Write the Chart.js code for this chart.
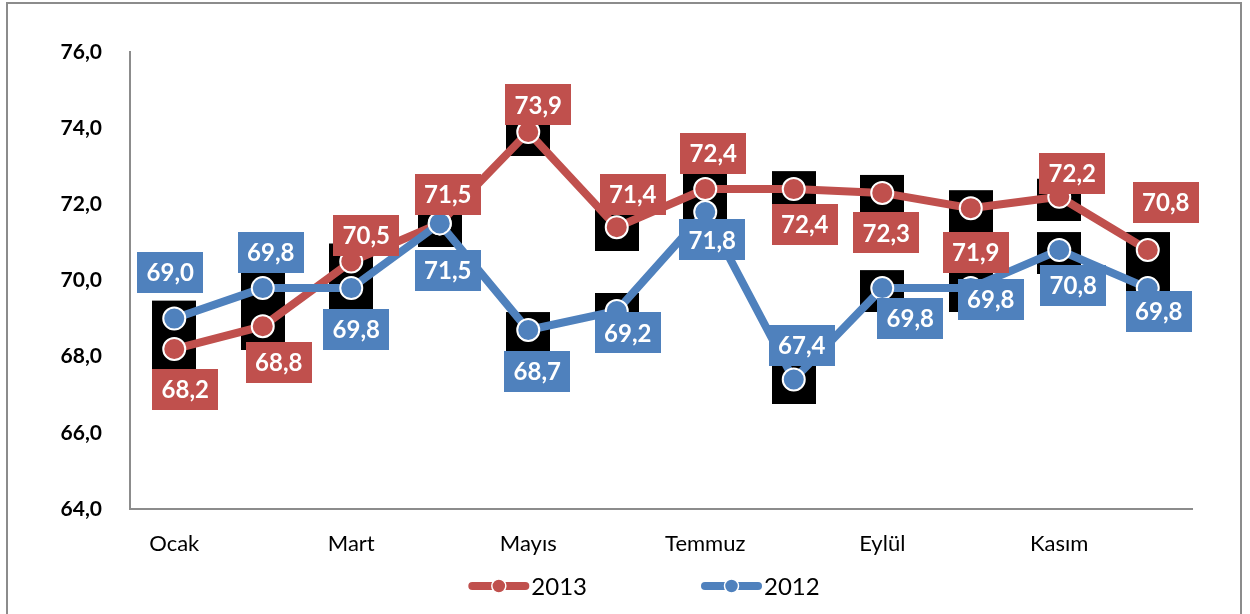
<!DOCTYPE html>
<html><head><meta charset="utf-8">
<script src="https://cdn.jsdelivr.net/npm/chart.js@4/dist/chart.umd.min.js"></script>
<style>html,body{margin:0;padding:0;background:#fff}#wrap{width:1250px;height:614px;position:relative}</style>
</head><body><div id="wrap"><canvas id="c" width="1250" height="614"></canvas></div>
<script>
const months = ['Ocak','Şubat','Mart','Nisan','Mayıs','Haziran','Temmuz','Ağustos','Eylül','Ekim','Kasım','Aralık'];
const values2013 = [68.2,68.8,70.5,71.5,73.9,71.4,72.4,72.4,72.3,71.9,72.2,70.8];
const values2012 = [69.0,69.8,69.8,71.5,68.7,69.2,71.8,67.4,69.8,69.8,70.8,69.8];
const yMin = 64, yMax = 76, yStep = 2;
const seriesNames = ['2013','2012'];

// label offsets relative to each point (style only)
const labelOffsets2013 = [[11,40],[16,36],[15,-26],[8,-29],[10,-27],[16,-33],[8,-36],[11,35],[4,40],[5,44],[13,-23],[18,-48]];
const labelOffsets2012 = [[-4,-46],[8,-36],[5,41],[8,47],[9,41],[11,22],[7,28],[8,-34],[28,30],[20,11],[14,35],[11,23]];

const RED = '#C0504D', BLUE = '#4F81BD';
const FONT = 'Lato, "Open Sans", sans-serif';
const fmt = v => v.toFixed(1).replace('.', ',');

function makeBlock(){
  const c = document.createElement('canvas');
  c.width = 44; c.height = 48;
  const g = c.getContext('2d');
  g.fillStyle = '#000';
  g.fillRect(0, 6, 44, 42);
  return c;
}
const block = makeBlock();

const frame = {
  id: 'frame',
  beforeDraw(chart){
    const ctx = chart.ctx;
    ctx.save();
    ctx.fillStyle = '#fff';
    ctx.fillRect(0,0,chart.width,chart.height);
    ctx.strokeStyle = '#8c8c8c';
    ctx.lineWidth = 2;
    ctx.strokeRect(7, 3, 1234, 630);
    ctx.restore();
  }
};

const labels = {
  id: 'valueLabels',
  afterDatasetsDraw(chart){
    const ctx = chart.ctx;
    ctx.save();
    ctx.font = 'bold 24px ' + FONT;
    ctx.textAlign = 'center';
    ctx.textBaseline = 'middle';
    chart.data.datasets.forEach((ds, di) => {
      if (!ds.valueLabelOffsets) return;
      const meta = chart.getDatasetMeta(di);
      meta.data.forEach((pt, i) => {
        const [dx, dy] = ds.valueLabelOffsets[i];
        const txt = fmt(ds.data[i]);
        const w = ctx.measureText(txt).width + 19;
        const h = 41;
        const cx = pt.x + dx, cy = pt.y + dy;
        ctx.fillStyle = ds.borderColor;
        ctx.fillRect(Math.round(cx - w/2), Math.round(cy - h/2), Math.round(w), h);
        ctx.fillStyle = '#fff';
        ctx.fillText(txt, cx, cy + 1);
      });
    });
    ctx.restore();
  }
};

const legend = {
  id: 'customLegend',
  afterDraw(chart){
    const ctx = chart.ctx;
    ctx.save();
    ctx.font = '24px ' + FONT;
    ctx.textBaseline = 'middle';
    ctx.textAlign = 'left';
    const items = chart.data.datasets.filter(d => d.inLegend);
    const symW = 61, gapT = 2, gapItems = 114, cy = 586;
    const widths = items.map(d => symW + gapT + ctx.measureText(d.label).width);
    const total = widths.reduce((a,b)=>a+b,0) + gapItems*(items.length-1);
    let x = 644 - total/2;
    items.forEach((d, k) => {
      ctx.strokeStyle = d.borderColor;
      ctx.lineWidth = 8;
      ctx.lineCap = 'round';
      ctx.beginPath();
      ctx.moveTo(x + 4, cy); ctx.lineTo(x + symW - 4, cy);
      ctx.stroke();
      ctx.beginPath();
      ctx.arc(x + symW/2, cy, 7, 0, Math.PI*2);
      ctx.fillStyle = d.borderColor;
      ctx.fill();
      ctx.lineWidth = 1.5;
      ctx.strokeStyle = '#fff';
      ctx.stroke();
      ctx.fillStyle = '#000';
      ctx.fillText(d.label, x + symW + gapT, cy + 1);
      x += widths[k] + gapItems;
    });
    ctx.restore();
  }
};

new Chart(document.getElementById('c'), {
  type: 'line',
  data: {
    labels: months,
    datasets: [
      { label: 'b2013', data: values2013, showLine: false, pointStyle: block, pointRadius: 22, order: 10 },
      { label: 'b2012', data: values2012, showLine: false, pointStyle: block, pointRadius: 22, order: 11 },
      { label: seriesNames[0], data: values2013, borderColor: RED, backgroundColor: RED, borderWidth: 8,
        pointRadius: 11, pointBorderColor: '#fff', pointBackgroundColor: RED, pointBorderWidth: 2,
        tension: 0, order: 2, inLegend: true, valueLabelOffsets: labelOffsets2013 },
      { label: seriesNames[1], data: values2012, borderColor: BLUE, backgroundColor: BLUE, borderWidth: 8,
        pointRadius: 11, pointBorderColor: '#fff', pointBackgroundColor: BLUE, pointBorderWidth: 2,
        tension: 0, order: 1, inLegend: true, valueLabelOffsets: labelOffsets2012 }
    ]
  },
  options: {
    responsive: false,
    animation: false,
    devicePixelRatio: 1,
    layout: { padding: { top: 52, right: 58, left: 0, bottom: 0 } },
    plugins: { legend: { display: false }, tooltip: { enabled: false } },
    scales: {
      x: {
        type: 'category',
        offset: true,
        grid: { drawOnChartArea: false, drawTicks: false },
        border: { display: true, color: '#8c8c8c', width: 2 },
        ticks: {
          autoSkip: false, maxRotation: 0, minRotation: 0,
          callback: (v, i) => (i % 2 === 0 ? months[i] : ''),
          font: { family: FONT, size: 22 }, color: '#000', padding: 22
        },
        afterFit: s => { s.height = 105; }
      },
      y: {
        min: yMin, max: yMax,
        grid: { drawOnChartArea: false, drawTicks: false },
        border: { display: true, color: '#8c8c8c', width: 2 },
        ticks: {
          stepSize: yStep,
          callback: v => fmt(v),
          font: { family: FONT, size: 21, weight: 'bold' }, color: '#000', padding: 28
        },
        afterFit: s => { s.width = 130; }
      }
    }
  },
  plugins: [frame, labels, legend]
});
</script>
</body></html>
